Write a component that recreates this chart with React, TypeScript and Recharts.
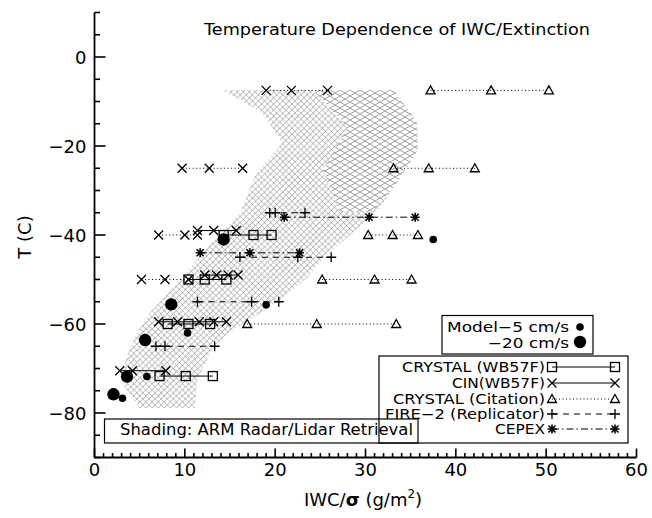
import React from "react";
import { ScatterChart, Scatter, XAxis, YAxis } from "recharts";

const FONT = "'DejaVu Sans', sans-serif";

const X_DOMAIN = [0, 60];
const Y_DOMAIN = [-90, 10];

// axis ticks
const xMajor = [0, 10, 20, 30, 40, 50, 60];
const yMajor = [-80, -60, -40, -20, 0];
const xTicks = Array.from({ length: 61 }, (_, i) => i);
const yTicks = Array.from({ length: 21 }, (_, i) => -90 + i * 5);

// CIN, dotted (no legend entry)
const cinDottedT = [-7.5, -25, -40, -50];
const cinDottedIWC = [
  [19.0, 21.8, 25.8],
  [9.7, 12.7, 16.4],
  [7.1, 10.0, 11.4],
  [5.2, 7.8, 10.4],
];

// CIN (WB57F), solid
const cinT = [-39, -49, -59.5, -70.5];
const cinIWC = [
  [11.4, 13.2, 15.7],
  [12.2, 13.5, 14.8, 15.9],
  [7.1, 9.2, 11.6, 13.2, 14.6],
  [2.8, 4.2, 7.9],
];

// CRYSTAL (WB57F), squares, solid
const crystalT = [-40, -50, -60, -71.7];
const crystalIWC = [
  [14.3, 17.6, 19.6],
  [10.4, 12.2, 14.6],
  [8.1, 10.4, 12.8],
  [7.2, 10.1, 13.1],
];

// CRYSTAL (Citation), triangles, dotted
const citationT = [-7.5, -25, -40, -50, -60];
const citationIWC = [
  [37.2, 43.9, 50.3],
  [33.1, 37.0, 42.1],
  [30.3, 33.0, 35.8],
  [25.2, 31.0, 35.1],
  [16.9, 24.6, 33.4],
];

// FIRE-2 (Replicator), plus, dashed
const fireT = [-35, -45, -55, -65];
const fireIWC = [
  [19.4, 20.0, 23.3],
  [16.1, 22.5, 26.2],
  [11.4, 17.4, 20.4],
  [6.8, 7.8, 13.3],
];

// CEPEX, asterisk, dash-dot
const cepexT = [-36, -44];
const cepexIWC = [
  [21.0, 30.4, 35.5],
  [11.7, 17.2, 22.7],
];

// model runs
const model5IWC = [37.5, 19.0, 10.3, 5.8, 3.1];
const model5T = [-41, -55.7, -62, -71.8, -76.7];
const model20IWC = [14.3, 8.5, 5.6, 3.6, 2.1];
const model20T = [-41, -55.6, -63.6, -71.8, -75.8];

// ARM radar/lidar shading outline (full band)
const shadeIWC = [14.2, 33.1, 35.7, 35.8, 33.3, 31.4, 28.3, 25.5, 23.3, 20.5, 17.2, 14.8, 13.1, 11.4, 11.1, 5.0, 3.2, 3.4, 4.7, 6.1, 9.5, 12.5, 16.1, 17.8, 20.8, 18.5, 14.2];
const shadeT = [-7.4, -7.4, -14.6, -20.9, -28.8, -34.4, -40.0, -44.9, -50.1, -54.6, -59.1, -62.0, -65.2, -72.6, -78.9, -78.9, -73.7, -68.1, -62.0, -57.5, -50.1, -42.7, -35.1, -26.5, -19.3, -12.4, -7.4];
// upper right lobe with the flatter hatch
const lobeIWC = [24.2, 33.1, 35.7, 35.8, 33.3, 30.7, 27.2, 25.3, 28.0, 24.2];
const lobeT = [-7.4, -7.4, -14.6, -20.9, -28.8, -34.8, -34.8, -25.4, -15.7, -7.4];

const fmt = (v: number) => (v < 0 ? "\u2212" + Math.abs(v) : String(v));

function marker(kind: string, cx: number, cy: number) {
  const s = 4.5;
  const st = { stroke: "#000", strokeWidth: 1.3, fill: "none" };
  switch (kind) {
    case "x":
      return <path d={`M${cx - s},${cy - s}L${cx + s},${cy + s}M${cx - s},${cy + s}L${cx + s},${cy - s}`} {...st} />;
    case "square":
      return <rect x={cx - s} y={cy - s} width={2 * s} height={2 * s} {...st} />;
    case "tri":
      return <path d={`M${cx},${cy - 4.5}L${cx + 4.5},${cy + 3.5}L${cx - 4.5},${cy + 3.5}Z`} {...st} />;
    case "plus":
      return <path d={`M${cx - 5},${cy}L${cx + 5},${cy}M${cx},${cy - 5}L${cx},${cy + 5}`} {...st} />;
    case "star":
      return (
        <path
          d={`M${cx - 4.5},${cy}L${cx + 4.5},${cy}M${cx},${cy - 4.5}L${cx},${cy + 4.5}M${cx - 3.5},${cy - 3.5}L${cx + 3.5},${cy + 3.5}M${cx - 3.5},${cy + 3.5}L${cx + 3.5},${cy - 3.5}`}
          {...st}
          strokeWidth={1.6}
        />
      );
    case "dot":
      return <circle cx={cx} cy={cy} r={3.8} fill="#000" />;
    case "bigdot":
      return <circle cx={cx} cy={cy} r={6.2} fill="#000" />;
    default:
      return <g />;
  }
}

const segs = (ts: number[], xs: number[][]) => ts.map((t, i) => xs[i].map((x) => ({ x, y: t })));

const DOT = "1 2.5";
const DASH = "6 5";
const DASHDOT = "7 3 1.5 3";

const groups = [
  { data: segs(cinDottedT, cinDottedIWC), kind: "x", dash: DOT },
  { data: segs(crystalT, crystalIWC), kind: "square", dash: undefined },
  { data: segs(cinT, cinIWC), kind: "x", dash: undefined },
  { data: segs(citationT, citationIWC), kind: "tri", dash: DOT },
  { data: segs(fireT, fireIWC), kind: "plus", dash: DASH },
  { data: segs(cepexT, cepexIWC), kind: "star", dash: DASHDOT },
];

const shadeData = shadeIWC.map((x, i) => ({ x, y: shadeT[i] }));
const lobeData = lobeIWC.map((x, i) => ({ x, y: lobeT[i] }));
const model5Data = model5IWC.map((x, i) => ({ x, y: model5T[i] }));
const model20Data = model20IWC.map((x, i) => ({ x, y: model20T[i] }));

const TICK_W = 1.6;

// ticks point inward, IDL style; tickSize/tickMargin are 0 so x/y sit on the axis line
function BottomTick(props: any) {
  const x = Number(props.x);
  const y = Number(props.y);
  const v = Number(props.payload.value);
  const major = xMajor.includes(v);
  return (
    <g>
      <path d={`M${x},${y}V${y - (major ? 9 : 4.5)}`} stroke="#000" strokeWidth={TICK_W} fill="none" />
      {major && (
        <text x={x} y={y + 18} textAnchor="middle" fontSize={18} fontFamily={FONT} fill="#000" stroke="none">
          {fmt(v)}
        </text>
      )}
    </g>
  );
}

function TopTick(props: any) {
  const x = Number(props.x);
  const y = Number(props.y);
  const major = xMajor.includes(Number(props.payload.value));
  return <path d={`M${x},${y}V${y + (major ? 9 : 4.5)}`} stroke="#000" strokeWidth={TICK_W} fill="none" />;
}

function LeftTick(props: any) {
  const x = Number(props.x);
  const y = Number(props.y);
  const v = Number(props.payload.value);
  const major = yMajor.includes(v);
  return (
    <g>
      <path d={`M${x},${y}H${x + (major ? 11 : 5.5)}`} stroke="#000" strokeWidth={TICK_W} fill="none" />
      {major && (
        <text x={x - 8} y={y + 6.5} textAnchor="end" fontSize={18} fontFamily={FONT} fill="#000" stroke="none">
          {fmt(v)}
        </text>
      )}
    </g>
  );
}

function RightTick(props: any) {
  const x = Number(props.x);
  const y = Number(props.y);
  const major = yMajor.includes(Number(props.payload.value));
  return <path d={`M${x},${y}H${x - (major ? 11 : 5.5)}`} stroke="#000" strokeWidth={TICK_W} fill="none" />;
}

const axisLine = { stroke: "#000", strokeWidth: 1.8 };

const legendRows = [
  { label: "CRYSTAL (WB57F)", kind: "square", dash: undefined, y: 367, w: 143 },
  { label: "CIN(WB57F)", kind: "x", dash: undefined, y: 383, w: 93 },
  { label: "CRYSTAL (Citation)", kind: "tri", dash: DOT, y: 399, w: 152 },
  { label: "FIRE\u22122 (Replicator)", kind: "plus", dash: DASH, y: 414, w: 160 },
  { label: "CEPEX", kind: "star", dash: DASHDOT, y: 429, w: 50 },
];

export default function App() {
  return (
    <div style={{ position: "absolute", left: 0, top: 0, width: 652, height: 518, background: "#fff" }}>
      <svg width={0} height={0} style={{ position: "absolute" }}>
        <defs>
          <pattern id="hatch" width={4.3} height={4.3} patternUnits="userSpaceOnUse" patternTransform="rotate(45)">
            <path d="M0,0H4.3M0,0V4.3" stroke="#8a8a8a" strokeWidth={1} fill="none" />
          </pattern>
          <pattern id="hatch2" width={10} height={6} patternUnits="userSpaceOnUse">
            <rect width={10} height={6} fill="#fff" />
            <path d="M0,0L10,6M10,0L0,6" stroke="#a0a0a0" strokeWidth={1} fill="none" />
          </pattern>
        </defs>
      </svg>
      <ScatterChart width={652} height={518} margin={{ top: 12.5, right: 15.5, bottom: 0, left: 0.5 }}>
        <XAxis
          type="number"
          dataKey="x"
          domain={X_DOMAIN}
          ticks={xTicks}
          interval={0}
          allowDataOverflow
          height={60.5}
          tickLine={false}
          tickSize={0}
          tickMargin={0}
          axisLine={axisLine}
          tick={(p: any) => <BottomTick {...p} />}
        />
        <XAxis
          xAxisId="t"
          orientation="top"
          type="number"
          domain={X_DOMAIN}
          ticks={xTicks}
          interval={0}
          allowDataOverflow
          height={0}
          tickLine={false}
          tickSize={0}
          tickMargin={0}
          axisLine={axisLine}
          tick={(p: any) => <TopTick {...p} />}
        />
        <YAxis
          type="number"
          dataKey="y"
          domain={Y_DOMAIN}
          ticks={yTicks}
          interval={0}
          allowDataOverflow
          width={94}
          tickLine={false}
          tickSize={0}
          tickMargin={0}
          axisLine={axisLine}
          tick={(p: any) => <LeftTick {...p} />}
        />
        <YAxis
          yAxisId="r"
          orientation="right"
          type="number"
          domain={Y_DOMAIN}
          ticks={yTicks}
          interval={0}
          allowDataOverflow
          width={0}
          tickLine={false}
          tickSize={0}
          tickMargin={0}
          axisLine={axisLine}
          tick={(p: any) => <RightTick {...p} />}
        />
        <Scatter
          data={shadeData}
          fill="none"
          isAnimationActive={false}
          line={{ stroke: "none", fill: "url(#hatch)" }}
          shape={() => <g />}
        />
        <Scatter
          data={lobeData}
          fill="none"
          isAnimationActive={false}
          line={{ stroke: "none", fill: "url(#hatch2)" }}
          shape={() => <g />}
        />
        {groups.flatMap((g, gi) =>
          g.data.map((d, i) => (
            <Scatter
              key={`s-${gi}-${i}`}
              data={d}
              fill="#000"
              isAnimationActive={false}
              line={{ stroke: "#000", strokeWidth: 1, strokeDasharray: g.dash, fill: "none" }}
              shape={(p: any) => marker(g.kind, p.cx, p.cy)}
            />
          ))
        )}
        <Scatter data={model5Data} fill="#000" isAnimationActive={false} shape={(p: any) => marker("dot", p.cx, p.cy)} />
        <Scatter data={model20Data} fill="#000" isAnimationActive={false} shape={(p: any) => marker("bigdot", p.cx, p.cy)} />
      </ScatterChart>
      <svg width={652} height={518} style={{ position: "absolute", left: 0, top: 0, pointerEvents: "none" }} fontFamily={FONT}>
        <text x={204} y={35} fontSize={16} textLength={386} lengthAdjust="spacingAndGlyphs">
          Temperature Dependence of IWC/Extinction
        </text>
        <text x={363} y={506} fontSize={18} textAnchor="middle">
          IWC/<tspan fontWeight="bold">σ</tspan> (g/m<tspan fontSize={12} dy={-8}>2</tspan>
          <tspan dy={8}>)</tspan>
        </text>
        <text x={31} y={237} fontSize={18} textAnchor="middle" transform="rotate(-90 31 237)">
          T (C)
        </text>

        <rect x={442} y={315.5} width={151} height={38.5} fill="#fff" stroke="#000" strokeWidth={1.2} />
        <text x={447} y={332} fontSize={14} textLength={122} lengthAdjust="spacingAndGlyphs">Model{"\u2212"}5 cm/s</text>
        <text x={488} y={347.5} fontSize={14} textLength={81} lengthAdjust="spacingAndGlyphs">{"\u2212"}20 cm/s</text>
        {marker("dot", 580, 327)}
        {marker("bigdot", 580, 342)}

        <rect x={104.5} y={419} width={313.5} height={24} fill="#fff" stroke="#000" strokeWidth={1.2} />
        <text x={120} y={435} fontSize={15} textLength={293} lengthAdjust="spacingAndGlyphs">
          Shading: ARM Radar/Lidar Retrieval
        </text>

        <rect x={379} y={356} width={249} height={87} fill="none" stroke="#000" strokeWidth={1.2} />
        {legendRows.map((r) => (
          <g key={r.label}>
            <text x={545 - r.w} y={r.y + 5} fontSize={13.5} textLength={r.w} lengthAdjust="spacingAndGlyphs">
              {r.label}
            </text>
            <line x1={552} y1={r.y} x2={615} y2={r.y} stroke="#000" strokeDasharray={r.dash} />
            {marker(r.kind, 552, r.y)}
            {marker(r.kind, 615, r.y)}
          </g>
        ))}
      </svg>
    </div>
  );
}
